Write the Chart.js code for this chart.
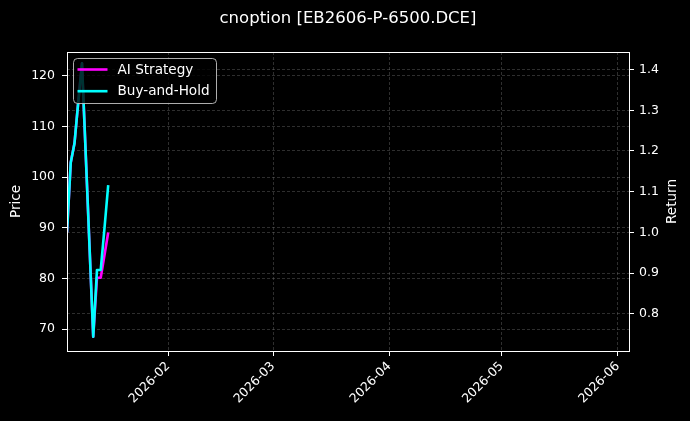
<!DOCTYPE html>
<html>
<head>
<meta charset="utf-8">
<script src="https://cdn.jsdelivr.net/npm/chart.js@4.4.1/dist/chart.umd.min.js"></script>
<style>
  html, body { margin: 0; padding: 0; background: #000; }
  #chart { display: block; }
</style>
</head>
<body>
<canvas id="chart" width="690" height="421"></canvas>
<script>
const TITLE = "cnoption [EB2606-P-6500.DCE]"

const DATES = [
  "2026-01-05", "2026-01-06", "2026-01-07", "2026-01-08", "2026-01-09",
  "2026-01-12", "2026-01-13", "2026-01-14", "2026-01-15", "2026-01-16"
]
const AI_STRATEGY = [1.000, 1.172, 1.219, 1.320, 1.415, 0.744, 0.889, 0.889, 0.944, 1.000]
const BUY_AND_HOLD = [1.000, 1.172, 1.219, 1.320, 1.415, 0.744, 0.908, 0.908, 1.010, 1.116]

const X_RANGE = ["2026-01-05", "2026-06-04"]
const MONTH_TICKS = ["2026-02-01", "2026-03-01", "2026-04-01", "2026-05-01", "2026-06-01"]
const MONTH_LABELS = ["2026-02", "2026-03", "2026-04", "2026-05", "2026-06"]

const PRICE_RANGE = [65.7, 124.7]
const PRICE_TICKS = [70, 80, 90, 100, 110, 120]
const RETURN_RANGE = [0.709, 1.443]
const RETURN_TICKS = [0.8, 0.9, 1.0, 1.1, 1.2, 1.3, 1.4]

const FONT = "'DejaVu Sans', 'Liberation Sans', sans-serif"
const GRID = "rgba(128,128,128,0.45)"

// days since 2026-01-01, used as the x value
const day = d => (Date.parse(d) - Date.parse("2026-01-01")) / 864e5
const toPoints = vals => vals.map((v, i) => ({ x: day(DATES[i]), y: v }))

const fixedTicks = list => scale => { scale.ticks = list.map(v => ({ value: v })) }

const gridOpts = {
  color: GRID,
  lineWidth: 0.8,
  tickColor: "#fff",
  tickLength: 5,
  tickWidth: 1
}

const decor = {
  id: "decor",
  beforeDraw(chart) {
    const { ctx, width, height } = chart
    ctx.save()
    ctx.fillStyle = "#000"
    ctx.fillRect(0, 0, width, height)
    ctx.restore()
  },
  afterDatasetsDraw(chart) {
    const { ctx, chartArea: a } = chart
    ctx.save()
    // legend box
    const bx = a.left + 6.5, by = a.top + 6.5, bw = 143, bh = 45
    ctx.beginPath()
    ctx.roundRect(bx, by, bw, bh, 4)
    ctx.fillStyle = "rgba(0,0,0,0.8)"
    ctx.fill()
    ctx.strokeStyle = "rgba(204,204,204,0.85)"
    ctx.lineWidth = 1
    ctx.stroke()
    const items = [["AI Strategy", "#ff00ff"], ["Buy-and-Hold", "#00ffff"]]
    ctx.font = "13.6px " + FONT
    ctx.textBaseline = "middle"
    ctx.textAlign = "left"
    items.forEach(([label, color], i) => {
      const y = by + 11 + i * 21.7
      ctx.beginPath()
      ctx.moveTo(bx + 4, y)
      ctx.lineTo(bx + 34, y)
      ctx.strokeStyle = color
      ctx.lineWidth = 2.6
      ctx.stroke()
      ctx.fillStyle = "#fff"
      ctx.fillText(label, bx + 44, y + 0.5)
    })
    // spines, snapped to the pixel grid so they stay crisp
    const l = Math.floor(a.left) + 0.5, r = Math.floor(a.right) + 0.5
    const t = Math.floor(a.top) + 0.5, b = Math.floor(a.bottom) + 0.5
    ctx.strokeStyle = "#fff"
    ctx.lineWidth = 1
    ctx.strokeRect(l, t, r - l, b - t)
    ctx.restore()
  },
  afterDraw(chart) {
    const { ctx, chartArea: a } = chart
    const midY = (a.top + a.bottom) / 2
    ctx.save()
    ctx.fillStyle = "#fff"
    ctx.textAlign = "center"
    ctx.textBaseline = "middle"
    ctx.font = "16.5px " + FONT
    ctx.fillText(TITLE, (a.left + a.right) / 2, 19)
    ctx.font = "13.6px " + FONT
    ;[["Price", 16.5], ["Return", 672.5]].forEach(([t, x]) => {
      ctx.save()
      ctx.translate(x, midY)
      ctx.rotate(-Math.PI / 2)
      ctx.fillText(t, 0, 0)
      ctx.restore()
    })
    ctx.restore()
  }
}

new Chart(document.getElementById("chart").getContext("2d"), {
  type: "line",
  data: {
    datasets: [
      {
        label: "AI Strategy",
        data: toPoints(AI_STRATEGY),
        yAxisID: "y2",
        borderColor: "#ff00ff",
        borderWidth: 2.6,
        pointRadius: 0,
        borderJoinStyle: "round",
        order: 1
      },
      {
        label: "Buy-and-Hold",
        data: toPoints(BUY_AND_HOLD),
        yAxisID: "y2",
        borderColor: "#00ffff",
        borderWidth: 2.6,
        pointRadius: 0,
        borderJoinStyle: "round",
        order: 0
      }
    ]
  },
  options: {
    responsive: false,
    animation: false,
    devicePixelRatio: 1,
    layout: { padding: { top: 52, left: 0, right: 0, bottom: 0 } },
    plugins: {
      legend: { display: false },
      title: { display: false },
      tooltip: { enabled: false }
    },
    scales: {
      x: {
        type: "linear",
        min: day(X_RANGE[0]),
        max: day(X_RANGE[1]),
        afterBuildTicks: fixedTicks(MONTH_TICKS.map(day)),
        afterFit: s => { s.height = 70 },
        grid: { ...gridOpts },
        border: { display: false, dash: [3, 2] },
        ticks: {
          color: "#fff",
          font: { family: FONT, size: 12.5 },
          autoSkip: false,
          minRotation: 45,
          maxRotation: 45,
          padding: 3,
          callback: (v, i) => MONTH_LABELS[i]
        }
      },
      y: {
        position: "left",
        min: PRICE_RANGE[0],
        max: PRICE_RANGE[1],
        afterBuildTicks: fixedTicks(PRICE_TICKS),
        afterFit: s => { s.width = 67 },
        grid: { ...gridOpts },
        border: { display: false, dash: [3, 2] },
        ticks: {
          color: "#fff",
          font: { family: FONT, size: 12.5 },
          padding: 7,
          callback: v => String(v)
        }
      },
      y2: {
        position: "right",
        min: RETURN_RANGE[0],
        max: RETURN_RANGE[1],
        afterBuildTicks: fixedTicks(RETURN_TICKS),
        afterFit: s => { s.width = 61 },
        grid: { ...gridOpts },
        border: { display: false, dash: [3, 2] },
        ticks: {
          color: "#fff",
          font: { family: FONT, size: 12.5 },
          padding: 5,
          callback: v => v.toFixed(1)
        }
      }
    }
  },
  plugins: [decor]
})
</script>
</body>
</html>
